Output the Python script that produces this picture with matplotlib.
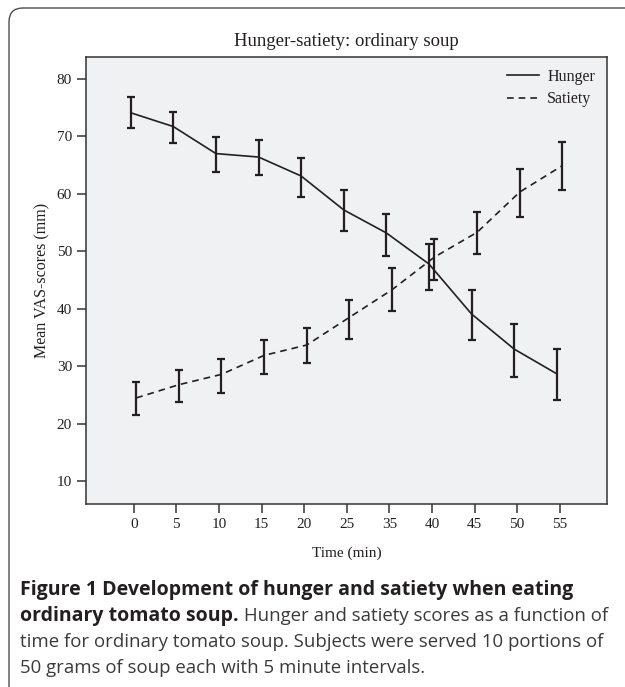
import matplotlib
matplotlib.use('Agg')
import matplotlib.pyplot as plt
from matplotlib.patches import FancyBboxPatch
from matplotlib.transforms import IdentityTransform

# values (mean and error bar ends)
time_labels = ['0', '5', '10', '15', '20', '25', '35', '40', '45', '50', '55']
hunger_mean = [74.1, 71.7, 67.0, 66.4, 63.1, 57.2, 53.2, 47.8, 39.1, 33.0, 28.7]
hunger_lo = [71.5, 68.8, 63.8, 63.2, 59.5, 53.5, 49.1, 43.2, 34.6, 28.2, 24.2]
hunger_hi = [76.8, 74.3, 69.9, 69.4, 66.3, 60.7, 56.5, 51.2, 43.2, 37.3, 33.0]
satiety_mean = [24.5, 26.8, 28.6, 31.9, 33.7, 38.5, 43.3, 49.0, 53.3, 60.3, 64.9]
satiety_lo = [21.5, 23.8, 25.3, 28.6, 30.5, 34.7, 39.7, 45.0, 49.6, 56.0, 60.6]
satiety_hi = [27.2, 29.4, 31.2, 34.6, 36.6, 41.6, 47.1, 52.2, 56.9, 64.4, 69.0]
y_ticks = [10, 20, 30, 40, 50, 60, 70, 80]

SERIF = 'Liberation Serif'
SANS = 'Open Sans'
INK = '#231f20'

W, H = 625, 687
fig = plt.figure(figsize=(W / 100, H / 100), dpi=100)

# rounded frame around figure + caption
frame = FancyBboxPatch((9, -20), 660, H - 8 + 20,
                       boxstyle='round,pad=0,rounding_size=14',
                       transform=IdentityTransform(), fill=False,
                       edgecolor='#4d4d4d', linewidth=1.0)
fig.patches.append(frame)

ax = fig.add_axes([86 / W, 1 - 504 / H, (607 - 86) / W, (504 - 57) / H])
ax.set_facecolor('#f0f1f3')

xs = list(range(len(time_labels)))
hx = [x - 0.07 for x in xs]
sx = [x + 0.06 for x in xs]

def draw_series(x, mean, lo, hi, ls, label):
    yerr = [[m - l for m, l in zip(mean, lo)], [h - m for m, h in zip(mean, hi)]]
    ax.errorbar(x, mean, yerr=yerr, fmt='none', ecolor=INK,
                elinewidth=1.6, capsize=2.6, capthick=1.6, zorder=3)
    ax.plot(x, mean, color=INK, linestyle=ls, linewidth=1.2,
            label=label, zorder=4)

draw_series(hx, hunger_mean, hunger_lo, hunger_hi, '-', 'Hunger')
draw_series(sx, satiety_mean, satiety_lo, satiety_hi, (0, (4, 3)), 'Satiety')

ax.set_xlim(-1.12, 11.11)
ax.set_ylim(6.05, 83.8)
ax.set_xticks(xs)
ax.set_xticklabels(time_labels)
ax.set_yticks(y_ticks)

for sp in ax.spines.values():
    sp.set_color('#333333')
    sp.set_linewidth(1.1)
ax.tick_params(axis='both', direction='out', length=6.5, width=1.1,
               color='#333333', labelsize=11, pad=3.5)
for lab in ax.get_xticklabels() + ax.get_yticklabels():
    lab.set_family(SERIF)
    lab.set_color(INK)

ax.set_xlabel('Time (min)', family=SERIF, fontsize=11, color=INK, labelpad=11)
ax.set_ylabel('Mean VAS-scores (mm)', family=SERIF, fontsize=11.5, color=INK, labelpad=5)
ax.set_title('Hunger-satiety: ordinary soup', family=SERIF, fontsize=13.5,
             color=INK, pad=8)

leg = ax.legend(loc='upper right', frameon=False, handlelength=2.0,
                handletextpad=0.5, labelspacing=0.4,
                prop={'family': SERIF, 'size': 11.5}, borderaxespad=0.35)
for t in leg.get_texts():
    t.set_color(INK)

# caption
cap_x = 20 / W
bold_size = 14.0
reg_size = 13.4
line_y = [590, 616, 642, 668]
fig.text(cap_x, 1 - line_y[0] / H,
         'Figure 1 Development of hunger and satiety when eating',
         family=SANS, weight='bold', fontsize=bold_size, color=INK, va='center')
bold2 = fig.text(cap_x, 1 - line_y[1] / H, 'ordinary tomato soup.',
                 family=SANS, weight='bold', fontsize=bold_size, color=INK, va='center')
fig.canvas.draw()
bb = bold2.get_window_extent()
fig.text(bb.x1 / W, 1 - line_y[1] / H, ' Hunger and satiety scores as a function of',
         family=SANS, fontsize=reg_size, color='#3a3a3a', va='center')
fig.text(cap_x, 1 - line_y[2] / H,
         'time for ordinary tomato soup. Subjects were served 10 portions of',
         family=SANS, fontsize=reg_size, color='#3a3a3a', va='center')
fig.text(cap_x, 1 - line_y[3] / H,
         '50 grams of soup each with 5 minute intervals.',
         family=SANS, fontsize=reg_size, color='#3a3a3a', va='center')

fig.savefig('out.png', dpi=100)
